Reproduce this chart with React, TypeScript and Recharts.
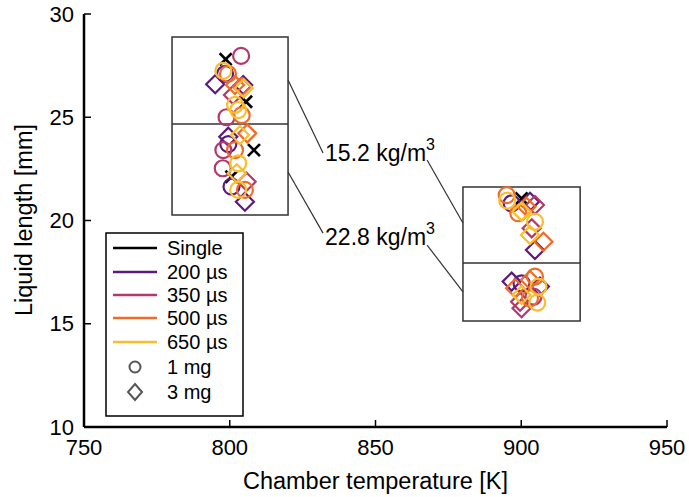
import React from 'react';
import {
  ScatterChart,
  Scatter,
  XAxis,
  YAxis,
  ReferenceArea,
  ReferenceLine,
  ReferenceDot,
  Legend
} from 'recharts';

const xTicks = [750, 800, 850, 900, 950];
const yTicks = [10, 15, 20, 25, 30];

// [temperature K, liquid length mm]
const single = [[798.6, 27.81], [805.6, 25.75], [808.3, 23.41], [800.6, 22.12], [900.1, 21.07]];
const p200c = [[798.4, 27.1], [799.5, 23.7], [800.6, 21.64], [896.7, 20.83], [900.1, 16.96]];
const p200d = [[795, 26.6], [804.6, 26.56], [799.5, 24.06], [805.2, 20.91], [903, 20.91], [904.7, 18.57], [896.7, 17.04], [906.4, 16.8]];
const p350c = [[803.9, 27.97], [798.9, 25.0], [797.8, 23.41], [797.6, 22.53], [904.2, 16.31]];
const p350d = [[801.1, 26.08], [805.8, 21.88], [904.7, 20.75], [903.6, 19.62], [900.1, 15.75], [899.6, 16.07]];
const p500c = [[799.4, 27.1], [804.1, 25.1], [801.8, 23.41], [805.2, 21.48], [895, 21.23], [899, 20.35], [904.7, 17.28], [903, 16.23]];
const p500d = [[801.8, 26.56], [804.1, 26.48], [806, 24.22], [901.8, 20.67], [907.6, 18.97], [897.9, 16.72], [903, 17.12]];
const p650c = [[797.8, 27.25], [801.8, 25.6], [802.9, 25.35], [802.9, 22.77], [802.9, 21.48], [895.2, 20.96], [904.7, 19.94], [905.9, 16.8], [905.5, 16.02]];
const p650d = [[804.8, 26.4], [803.5, 24.14], [802.4, 22.29], [900.1, 20.43], [903, 19.3], [900.1, 16.39]];

const legendLabels = ['Single', '200 µs', '350 µs', '500 µs', '650 µs'];
const massLabels = ['1 mg', '3 mg'];

const BLACK = '#000000';
const C200 = '#5c1a7e';
const C350 = '#b3386c';
const C500 = '#f06a28';
const C650 = '#fbbd2c';
const legendColors = [BLACK, C200, C350, C500, C650];

const FONT = 'Liberation Sans, Arial, Helvetica, sans-serif';

const toPts = (arr: number[][]) => arr.map(([x, y]) => ({ x, y }));

const circle = (color: string) => (p: any) => (
  <circle cx={p.cx} cy={p.cy} r={8} fill="none" stroke={color} strokeWidth={2.2} />
);
const diamond = (color: string) => (p: any) => {
  const { cx, cy } = p;
  const s = 9;
  return (
    <path
      d={`M${cx},${cy - s}L${cx + s},${cy}L${cx},${cy + s}L${cx - s},${cy}Z`}
      fill="none"
      stroke={color}
      strokeWidth={2.2}
    />
  );
};
const cross = (p: any) => {
  const { cx, cy } = p;
  const s = 6;
  return (
    <g stroke={BLACK} strokeWidth={2.6}>
      <line x1={cx - s} y1={cy - s} x2={cx + s} y2={cy + s} />
      <line x1={cx - s} y1={cy + s} x2={cx + s} y2={cy - s} />
    </g>
  );
};

const XTick = (props: any) => {
  const { x, y, payload } = props;
  return (
    <g>
      <line x1={x} y1={y} x2={x} y2={y - 7} stroke="#000" strokeWidth={1.5} />
      <text x={x} y={y + 28} textAnchor="middle" fontSize={22} fontFamily={FONT} fill="#000">
        {payload.value}
      </text>
    </g>
  );
};
const YTick = (props: any) => {
  const { x, y, payload } = props;
  return (
    <g>
      <line x1={x} y1={y} x2={x + 7} y2={y} stroke="#000" strokeWidth={1.5} />
      <text x={x - 10} y={y} dy="0.35em" textAnchor="end" fontSize={22} fontFamily={FONT} fill="#000">
        {payload.value}
      </text>
    </g>
  );
};
const TopTick = (props: any) => {
  const { x, y } = props;
  return <line x1={x} y1={y} x2={x} y2={y + 7} stroke="#000" strokeWidth={1.5} />;
};
const RightTick = (props: any) => {
  const { x, y } = props;
  return <line x1={x} y1={y} x2={x - 7} y2={y} stroke="#000" strokeWidth={1.5} />;
};

const densityLabel = (value: string) => (p: any) => (
  <text x={p.cx} y={p.cy} fontSize={23} fontFamily={FONT} fill="#000">
    {value}
    <tspan dy={-11} fontSize={16}>3</tspan>
  </text>
);

const LegendBox = () => {
  const rowY = [248, 272, 295, 318, 342, 367, 392].map((v) => v - 232);
  return (
    <svg width={140} height={186} style={{ display: 'block' }}>
      <rect x={1} y={1} width={137} height={183} fill="#fff" stroke="#000" strokeWidth={1.5} />
      {legendLabels.map((lab, i) => (
        <g key={lab}>
          <line x1={8} y1={rowY[i]} x2={52} y2={rowY[i]} stroke={legendColors[i]} strokeWidth={2.5} />
          <text x={62} y={rowY[i]} dy="0.35em" fontSize={20} fontFamily={FONT} fill="#000">
            {lab}
          </text>
        </g>
      ))}
      <circle cx={30} cy={rowY[5]} r={5.5} fill="none" stroke="#555" strokeWidth={2} />
      <text x={62} y={rowY[5]} dy="0.35em" fontSize={20} fontFamily={FONT} fill="#000">
        {massLabels[0]}
      </text>
      <path
        d={`M30,${rowY[6] - 8}L37,${rowY[6]}L30,${rowY[6] + 8}L23,${rowY[6]}Z`}
        fill="none"
        stroke="#555"
        strokeWidth={2}
      />
      <text x={62} y={rowY[6]} dy="0.35em" fontSize={20} fontFamily={FONT} fill="#000">
        {massLabels[1]}
      </text>
    </svg>
  );
};

const series = [
  { name: 'Single', data: single, shape: cross },
  { name: '200c', data: p200c, shape: circle(C200) },
  { name: '200d', data: p200d, shape: diamond(C200) },
  { name: '350c', data: p350c, shape: circle(C350) },
  { name: '350d', data: p350d, shape: diamond(C350) },
  { name: '500c', data: p500c, shape: circle(C500) },
  { name: '500d', data: p500d, shape: diamond(C500) },
  { name: '650c', data: p650c, shape: circle(C650) },
  { name: '650d', data: p650d, shape: diamond(C650) }
];

export default function App() {
  return (
    <div style={{ position: 'absolute', left: 0, top: 0, background: '#fff' }}>
      <ScatterChart width={689} height={497} margin={{ top: 14, right: 22, left: 0, bottom: 0 }}>
        <XAxis
          type="number"
          dataKey="x"
          domain={[750, 950]}
          ticks={xTicks}
          height={70}
          tickSize={0}
          tickMargin={0}
          tickLine={false}
          tick={<XTick />}
          axisLine={{ stroke: '#000', strokeWidth: 2.5 }}
          allowDataOverflow
          label={{
            value: 'Chamber temperature [K]',
            position: 'insideBottom',
            offset: 8,
            fontSize: 23.5,
            fontFamily: FONT,
            fill: '#000'
          }}
        />
        <XAxis
          xAxisId="top"
          orientation="top"
          type="number"
          domain={[750, 950]}
          ticks={xTicks}
          height={0}
          tickSize={0}
          tickLine={false}
          tick={<TopTick />}
          axisLine={{ stroke: '#000', strokeWidth: 2.5 }}
        />
        <YAxis
          type="number"
          dataKey="y"
          domain={[10, 30]}
          ticks={yTicks}
          width={84}
          tickSize={0}
          tickMargin={0}
          tickLine={false}
          tick={<YTick />}
          axisLine={{ stroke: '#000', strokeWidth: 2.5 }}
          allowDataOverflow
          label={{
            content: () => (
              <text
                transform="translate(32,220) rotate(-90)"
                textAnchor="middle"
                fontSize={23.5}
                fontFamily={FONT}
                fill="#000"
              >
                Liquid length [mm]
              </text>
            )
          }}
        />
        <YAxis
          yAxisId="right"
          orientation="right"
          type="number"
          domain={[10, 30]}
          ticks={yTicks}
          width={0}
          tickSize={0}
          tickLine={false}
          tick={<RightTick />}
          axisLine={{ stroke: '#000', strokeWidth: 2.5 }}
        />

        <ReferenceArea x1={780.2} x2={820} y1={20.27} y2={28.89} fill="none" stroke="#333" strokeWidth={1.5} />
        <ReferenceLine segment={[{ x: 780.2, y: 24.67 }, { x: 820, y: 24.67 }]} stroke="#333" strokeWidth={1.5} />
        <ReferenceArea x1={880} x2={920.2} y1={15.13} y2={21.62} fill="none" stroke="#333" strokeWidth={1.5} />
        <ReferenceLine segment={[{ x: 880, y: 17.94 }, { x: 920.2, y: 17.94 }]} stroke="#333" strokeWidth={1.5} />

        <ReferenceLine segment={[{ x: 820, y: 26.8 }, { x: 832, y: 23.27 }]} stroke="#333" strokeWidth={1.2} />
        <ReferenceLine segment={[{ x: 867.7, y: 22.93 }, { x: 880, y: 19.88 }]} stroke="#333" strokeWidth={1.2} />
        <ReferenceLine segment={[{ x: 820, y: 22.35 }, { x: 832, y: 19.39 }]} stroke="#333" strokeWidth={1.2} />
        <ReferenceLine segment={[{ x: 867.7, y: 18.81 }, { x: 880, y: 16.54 }]} stroke="#333" strokeWidth={1.2} />

        {series.map((s) => (
          <Scatter
            key={s.name}
            name={s.name}
            data={toPts(s.data)}
            shape={s.shape}
            isAnimationActive={false}
            legendType="none"
          />
        ))}

        <ReferenceDot x={832.7} y={22.88} r={0} shape={densityLabel('15.2 kg/m')} />
        <ReferenceDot x={832.7} y={18.81} r={0} shape={densityLabel('22.8 kg/m')} />

        <Legend
          layout="vertical"
          align="center"
          verticalAlign="middle"
          content={() => <LegendBox />}
          wrapperStyle={{ position: 'absolute', left: 105, top: 232, width: 140, height: 186 }}
        />
      </ScatterChart>
    </div>
  );
}
